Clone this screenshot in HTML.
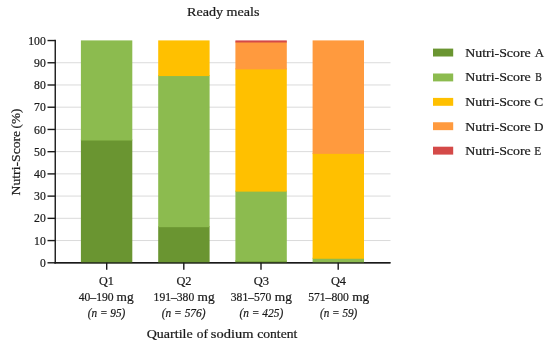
<!DOCTYPE html>
<html>
<head>
<meta charset="utf-8">
<title>Ready meals</title>
<style>
html,body{margin:0;padding:0;background:#ffffff;}
body{width:550px;height:345px;overflow:hidden;font-family:"Liberation Serif",serif;}
svg{display:block;will-change:transform;transform:translateZ(0);}
text{font-family:"Liberation Serif",serif;fill:#1a1a1a;stroke:#1a1a1a;stroke-width:0.22px;}
</style>
</head>
<body>
<svg width="550" height="345" viewBox="0 0 550 345">
<rect x="0" y="0" width="550" height="345" fill="#ffffff"/>
<g stroke="#d6d6d6" stroke-width="0.9" fill="none">
<line x1="55" x2="390.5" y1="240.53" y2="240.53"/>
<line x1="55" x2="390.5" y1="218.30" y2="218.30"/>
<line x1="55" x2="390.5" y1="196.07" y2="196.07"/>
<line x1="55" x2="390.5" y1="173.85" y2="173.85"/>
<line x1="55" x2="390.5" y1="151.62" y2="151.62"/>
<line x1="55" x2="390.5" y1="129.40" y2="129.40"/>
<line x1="55" x2="390.5" y1="107.17" y2="107.17"/>
<line x1="55" x2="390.5" y1="84.95" y2="84.95"/>
<line x1="55" x2="390.5" y1="62.72" y2="62.72"/>
</g>
<line x1="54.5" x2="390.5" y1="262.80" y2="262.80" stroke="#1a1a1a" stroke-width="1.5"/>
<rect x="80.90" y="139.51" width="51.40" height="123.64" fill="#6a9531"/>
<rect x="80.90" y="40.40" width="51.40" height="100.11" fill="#8cbb4f"/>
<rect x="158.20" y="226.19" width="51.40" height="36.96" fill="#6a9531"/>
<rect x="158.20" y="75.06" width="51.40" height="152.13" fill="#8cbb4f"/>
<rect x="158.20" y="40.40" width="51.40" height="35.66" fill="#ffc000"/>
<rect x="235.40" y="260.42" width="51.40" height="2.73" fill="#6a9531"/>
<rect x="235.40" y="190.63" width="51.40" height="70.79" fill="#8cbb4f"/>
<rect x="235.40" y="68.39" width="51.40" height="123.24" fill="#ffc000"/>
<rect x="235.40" y="41.50" width="51.40" height="27.89" fill="#ff9a3e"/>
<rect x="235.40" y="40.40" width="51.40" height="2.10" fill="#d44a48"/>
<rect x="312.60" y="257.75" width="51.40" height="5.40" fill="#8cbb4f"/>
<rect x="312.60" y="152.85" width="51.40" height="105.90" fill="#ffc000"/>
<rect x="312.60" y="40.40" width="51.40" height="113.45" fill="#ff9a3e"/>
<line x1="54.5" x2="390.5" y1="262.80" y2="262.80" stroke="#1a1a1a" stroke-width="1.5" stroke-opacity="0.7"/>
<g stroke="#1a1a1a" stroke-width="1.4" fill="none">
<line x1="55.25" x2="55.25" y1="39.7" y2="263.5"/>
<line x1="47.5" x2="55.2" y1="262.80" y2="262.80"/>
<line x1="47.5" x2="55.2" y1="240.58" y2="240.58"/>
<line x1="47.5" x2="55.2" y1="218.35" y2="218.35"/>
<line x1="47.5" x2="55.2" y1="196.12" y2="196.12"/>
<line x1="47.5" x2="55.2" y1="173.90" y2="173.90"/>
<line x1="47.5" x2="55.2" y1="151.68" y2="151.68"/>
<line x1="47.5" x2="55.2" y1="129.45" y2="129.45"/>
<line x1="47.5" x2="55.2" y1="107.22" y2="107.22"/>
<line x1="47.5" x2="55.2" y1="85.00" y2="85.00"/>
<line x1="47.5" x2="55.2" y1="62.77" y2="62.77"/>
<line x1="47.5" x2="55.2" y1="40.55" y2="40.55"/>
<line x1="106.7" x2="106.7" y1="262.8" y2="269.8"/>
<line x1="183.8" x2="183.8" y1="262.8" y2="269.8"/>
<line x1="261.0" x2="261.0" y1="262.8" y2="269.8"/>
<line x1="338.2" x2="338.2" y1="262.8" y2="269.8"/>
</g>
<text x="40.00" y="266.85" font-size="12.4" textLength="5.80" lengthAdjust="spacingAndGlyphs">0</text>
<text x="34.10" y="244.62" font-size="12.4" textLength="11.70" lengthAdjust="spacingAndGlyphs">10</text>
<text x="34.10" y="222.40" font-size="12.4" textLength="11.70" lengthAdjust="spacingAndGlyphs">20</text>
<text x="34.10" y="200.17" font-size="12.4" textLength="11.70" lengthAdjust="spacingAndGlyphs">30</text>
<text x="34.10" y="177.95" font-size="12.4" textLength="11.70" lengthAdjust="spacingAndGlyphs">40</text>
<text x="34.10" y="155.72" font-size="12.4" textLength="11.70" lengthAdjust="spacingAndGlyphs">50</text>
<text x="34.10" y="133.50" font-size="12.4" textLength="11.70" lengthAdjust="spacingAndGlyphs">60</text>
<text x="34.10" y="111.27" font-size="12.4" textLength="11.70" lengthAdjust="spacingAndGlyphs">70</text>
<text x="34.10" y="89.05" font-size="12.4" textLength="11.70" lengthAdjust="spacingAndGlyphs">80</text>
<text x="34.10" y="66.82" font-size="12.4" textLength="11.70" lengthAdjust="spacingAndGlyphs">90</text>
<text x="28.20" y="44.60" font-size="12.4" textLength="17.60" lengthAdjust="spacingAndGlyphs">100</text>
<text x="187.00" y="16.00" font-size="13.2" textLength="72.50" lengthAdjust="spacingAndGlyphs">Ready meals</text>
<text x="98.90" y="285.20" font-size="13" textLength="14.90" lengthAdjust="spacingAndGlyphs">Q1</text>
<text x="78.70" y="300.70" font-size="13" textLength="34.90" lengthAdjust="spacingAndGlyphs">40–190</text>
<text x="116.60" y="300.70" font-size="13" textLength="17.10" lengthAdjust="spacingAndGlyphs">mg</text>
<text x="87.80" y="316.60" font-size="13" textLength="37.50" lengthAdjust="spacingAndGlyphs" font-style="italic">(n = 95)</text>
<text x="176.40" y="285.20" font-size="13" textLength="15.10" lengthAdjust="spacingAndGlyphs">Q2</text>
<text x="153.60" y="300.70" font-size="13" textLength="40.60" lengthAdjust="spacingAndGlyphs">191–380</text>
<text x="197.60" y="300.70" font-size="13" textLength="17.10" lengthAdjust="spacingAndGlyphs">mg</text>
<text x="161.80" y="316.60" font-size="13" textLength="43.70" lengthAdjust="spacingAndGlyphs" font-style="italic">(n = 576)</text>
<text x="253.70" y="285.20" font-size="13" textLength="15.30" lengthAdjust="spacingAndGlyphs">Q3</text>
<text x="230.80" y="300.70" font-size="13" textLength="40.60" lengthAdjust="spacingAndGlyphs">381–570</text>
<text x="274.80" y="300.70" font-size="13" textLength="17.10" lengthAdjust="spacingAndGlyphs">mg</text>
<text x="239.50" y="316.60" font-size="13" textLength="43.70" lengthAdjust="spacingAndGlyphs" font-style="italic">(n = 425)</text>
<text x="330.90" y="285.20" font-size="13" textLength="15.10" lengthAdjust="spacingAndGlyphs">Q4</text>
<text x="308.20" y="300.70" font-size="13" textLength="40.60" lengthAdjust="spacingAndGlyphs">571–800</text>
<text x="352.20" y="300.70" font-size="13" textLength="17.10" lengthAdjust="spacingAndGlyphs">mg</text>
<text x="320.00" y="316.60" font-size="13" textLength="37.30" lengthAdjust="spacingAndGlyphs" font-style="italic">(n = 59)</text>
<text x="146.70" y="338.40" font-size="13" textLength="46.00" lengthAdjust="spacingAndGlyphs">Quartile</text>
<text x="196.70" y="338.40" font-size="13" textLength="11.20" lengthAdjust="spacingAndGlyphs">of</text>
<text x="210.80" y="338.40" font-size="13" textLength="42.60" lengthAdjust="spacingAndGlyphs">sodium</text>
<text x="257.20" y="338.40" font-size="13" textLength="40.10" lengthAdjust="spacingAndGlyphs">content</text>
<g transform="translate(19.6,195.4) rotate(-90)">
<text x="0.00" y="0.00" font-size="12.4" textLength="64.60" lengthAdjust="spacingAndGlyphs">Nutri-Score</text>
<text x="67.00" y="0.00" font-size="12.4" textLength="19.90" lengthAdjust="spacingAndGlyphs">(%)</text>
</g>
<rect x="433" y="48.60" width="20.2" height="7.9" fill="#6a9531"/>
<rect x="433" y="73.50" width="20.2" height="7.9" fill="#8cbb4f"/>
<rect x="433" y="97.90" width="20.2" height="7.9" fill="#ffc000"/>
<rect x="433" y="122.25" width="20.2" height="7.9" fill="#ff9a3e"/>
<rect x="433" y="146.70" width="20.2" height="7.9" fill="#d44a48"/>
<text x="465.20" y="56.80" font-size="12.4" textLength="65.60" lengthAdjust="spacingAndGlyphs">Nutri-Score</text>
<text x="534.70" y="56.80" font-size="12.4" textLength="9.30" lengthAdjust="spacingAndGlyphs">A</text>
<text x="465.20" y="81.40" font-size="12.4" textLength="65.60" lengthAdjust="spacingAndGlyphs">Nutri-Score</text>
<text x="535.30" y="81.40" font-size="12.4" textLength="6.60" lengthAdjust="spacingAndGlyphs">B</text>
<text x="465.20" y="106.00" font-size="12.4" textLength="65.60" lengthAdjust="spacingAndGlyphs">Nutri-Score</text>
<text x="534.20" y="106.00" font-size="12.4" textLength="8.90" lengthAdjust="spacingAndGlyphs">C</text>
<text x="465.20" y="130.50" font-size="12.4" textLength="65.60" lengthAdjust="spacingAndGlyphs">Nutri-Score</text>
<text x="534.30" y="130.50" font-size="12.4" textLength="9.20" lengthAdjust="spacingAndGlyphs">D</text>
<text x="465.20" y="155.10" font-size="12.4" textLength="65.60" lengthAdjust="spacingAndGlyphs">Nutri-Score</text>
<text x="534.20" y="155.10" font-size="12.4" textLength="6.90" lengthAdjust="spacingAndGlyphs">E</text>
</svg>
</body>
</html>
